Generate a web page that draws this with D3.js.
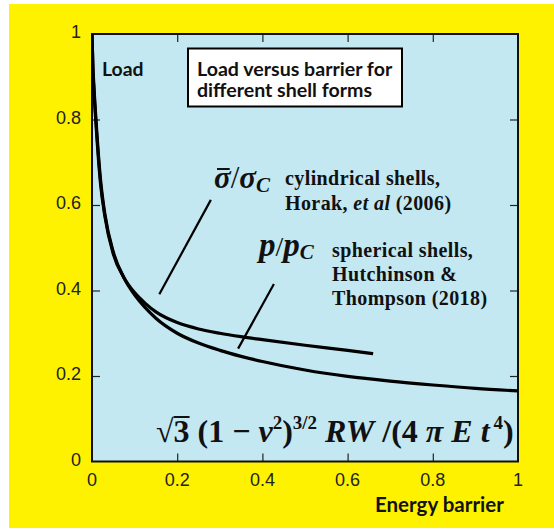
<!DOCTYPE html>
<html><head><meta charset="utf-8">
<script src="https://cdn.jsdelivr.net/npm/d3@7"></script>
<style>body{margin:0;background:#fff}</style>
</head><body><svg id="c" width="554" height="529"></svg>
<script>
const xTicks=[0,0.2,0.4,0.6,0.8,1];
const yTicks=[0,0.2,0.4,0.6,0.8,1];
const xTickLabels=["0","0.2","0.4","0.6","0.8","1"];
const yTickLabels=["0","0.2","0.4","0.6","0.8","1"];
// spherical shells p/pC (Hutchinson & Thompson 2018)
const sphX=[0,0.002,0.005,0.01,0.02,0.03,0.05,0.075,0.1,0.125,0.15,0.2,0.25,0.3,0.35,0.4,0.5,0.6,0.7,0.8,0.9,1.0];
const sphY=[1.0,0.93,0.87,0.79,0.66,0.58,0.49,0.43,0.39,0.36,0.335,0.30,0.277,0.26,0.246,0.234,0.214,0.199,0.188,0.179,0.171,0.165];
// cylindrical shells sigma/sigmaC (Horak et al 2006)
const cylX=[0,0.002,0.005,0.01,0.02,0.03,0.05,0.075,0.1,0.125,0.15,0.2,0.25,0.3,0.35,0.4,0.5,0.6,0.66];
const cylY=[1.0,0.92,0.86,0.78,0.65,0.575,0.485,0.43,0.395,0.37,0.35,0.325,0.31,0.3,0.292,0.285,0.272,0.26,0.252];
const pointerSigma=[[0.279,0.612],[0.158,0.391]];
const pointerP=[[0.427,0.415],[0.343,0.264]];

const svg=d3.select("#c");
const L=92,R=518,T=34,B=461.5;
const x=d3.scaleLinear().domain([0,1]).range([L,R]);
const y=d3.scaleLinear().domain([0,1]).range([B,T]);

svg.append("rect").attr("x",9).attr("y",4).attr("width",545).attr("height",524).attr("fill","#FFF200");
svg.append("rect").attr("x",L).attr("y",T).attr("width",R-L).attr("height",B-T).attr("fill","#C3E8F2");

svg.append("defs").append("clipPath").attr("id","clip").append("rect")
  .attr("x",L).attr("y",T).attr("width",R-L).attr("height",B-T);

const inner=xTicks.slice(1,-1);
const gB=svg.append("g").attr("transform",`translate(0,${B})`).call(d3.axisTop(x).tickValues(inner).tickSize(8).tickFormat(""));
const gT=svg.append("g").attr("transform",`translate(0,${T})`).call(d3.axisBottom(x).tickValues(inner).tickSize(8).tickFormat(""));
const gL=svg.append("g").attr("transform",`translate(${L},0)`).call(d3.axisRight(y).tickValues(yTicks.slice(1,-1)).tickSize(8).tickFormat(""));
const gR=svg.append("g").attr("transform",`translate(${R},0)`).call(d3.axisLeft(y).tickValues(yTicks.slice(1,-1)).tickSize(8).tickFormat(""));
[gB,gT,gL,gR].forEach(g=>{g.select(".domain").remove();g.selectAll("line").attr("stroke","#222").attr("stroke-width",1.2);});

svg.append("g").selectAll("text").data(xTicks).join("text")
  .attr("x",d=>x(d)).attr("y",486).attr("text-anchor","middle")
  .attr("font-family","Liberation Sans, Arial").attr("font-size",18).attr("fill","#222")
  .text((d,i)=>xTickLabels[i]);
svg.append("g").selectAll("text").data(yTicks).join("text")
  .attr("x",81).attr("y",d=>y(d)-2).attr("dy","0.35em").attr("text-anchor","end")
  .attr("font-family","Liberation Sans, Arial").attr("font-size",18).attr("fill","#222")
  .text((d,i)=>yTickLabels[i]);

svg.append("rect").attr("x",L).attr("y",T).attr("width",R-L).attr("height",B-T)
  .attr("fill","none").attr("stroke","#111").attr("stroke-width",2);

const line=d3.line().x(d=>x(d[0])).y(d=>y(d[1])).curve(d3.curveMonotoneX);
const gc=svg.append("g").attr("clip-path","url(#clip)");
gc.append("path").datum(sphX.map((v,i)=>[v,sphY[i]])).attr("d",line)
  .attr("fill","none").attr("stroke","#000").attr("stroke-width",3.2);
gc.append("path").datum(cylX.map((v,i)=>[v,cylY[i]])).attr("d",line)
  .attr("fill","none").attr("stroke","#000").attr("stroke-width",3.2);

const pl=d3.line().x(d=>x(d[0])).y(d=>y(d[1]));
[pointerSigma,pointerP].forEach(p=>svg.append("path").attr("d",pl(p)).attr("stroke","#000").attr("stroke-width",2.2).attr("fill","none"));

const sans="Lato, Open Sans, sans-serif";
svg.append("text").attr("x",102).attr("y",76).attr("font-family",sans).attr("font-weight","bold").attr("font-size",19.4).attr("fill","#111").text("Load");
svg.append("rect").attr("x",188).attr("y",48.5).attr("width",214).attr("height",58).attr("fill","#fff").attr("stroke","#000").attr("stroke-width",2);
svg.append("text").attr("x",197).attr("y",76).attr("font-family",sans).attr("font-weight","bold").attr("font-size",19.6).attr("fill","#111").text("Load versus barrier for");
svg.append("text").attr("x",197).attr("y",97).attr("font-family",sans).attr("font-weight","bold").attr("font-size",19.6).attr("fill","#111").text("different shell forms");
svg.append("text").attr("x",375).attr("y",512).attr("font-family",sans).attr("font-weight","bold").attr("font-size",20.5).attr("fill","#111").text("Energy barrier");

const serif="Liberation Serif, Times New Roman, serif";
const sg=svg.append("text").attr("x",214).attr("y",188).attr("font-family",serif).attr("font-weight","bold").attr("font-size",31).attr("fill","#111");
sg.append("tspan").attr("font-style","italic").text("σ");
sg.append("tspan").attr("font-weight","normal").text("/");
sg.append("tspan").attr("font-style","italic").text("σ");
sg.append("tspan").attr("font-style","italic").attr("font-size",21).attr("dy",4).text("C");
const bb=sg.node().getExtentOfChar(0);
svg.append("line").attr("x1",bb.x+3).attr("x2",bb.x+bb.width-1).attr("y1",169).attr("y2",169).attr("stroke","#111").attr("stroke-width",2);
const t1=svg.append("text").attr("font-family",serif).attr("font-weight","bold").attr("font-size",20).attr("letter-spacing",0.4).attr("fill","#111");
t1.append("tspan").attr("x",285).attr("y",185).text("cylindrical shells,");
const t1b=t1.append("tspan").attr("x",285).attr("y",210);
t1b.append("tspan").text("Horak, ");
t1b.append("tspan").attr("font-style","italic").text("et al");
t1b.append("tspan").text(" (2006)");

const pg=svg.append("text").attr("x",259).attr("y",256).attr("font-family",serif).attr("font-weight","bold").attr("font-size",33).attr("fill","#111");
pg.append("tspan").attr("font-style","italic").text("p");
pg.append("tspan").attr("font-weight","normal").attr("font-size",28).text("/");
pg.append("tspan").attr("font-style","italic").text("p");
pg.append("tspan").attr("font-style","italic").attr("font-size",21).attr("dy",3).text("C");
const t2=svg.append("text").attr("font-family",serif).attr("font-weight","bold").attr("font-size",20).attr("letter-spacing",0.4).attr("fill","#111");
t2.append("tspan").attr("x",332).attr("y",257).text("spherical shells,");
t2.append("tspan").attr("x",332).attr("y",281).text("Hutchinson &");
t2.append("tspan").attr("x",332).attr("y",305).text("Thompson (2018)");

const f=svg.append("text").attr("x",156).attr("y",442).attr("font-family",serif).attr("font-weight","bold").attr("font-size",32).attr("fill","#111");
f.append("tspan").attr("font-weight","normal").text("√");
f.append("tspan").text("3");
f.append("tspan").text(" (1 − ");
f.append("tspan").attr("font-style","italic").text("ν");
f.append("tspan").attr("font-size",19).attr("dy",-13).text("2");
f.append("tspan").attr("dy",13).text(")");
f.append("tspan").attr("font-size",19).attr("dy",-13).text("3/2");
f.append("tspan").attr("dy",13).attr("font-style","italic").text(" RW");
f.append("tspan").text(" /(4 ");
f.append("tspan").attr("font-style","italic").text("π E t");
f.append("tspan").attr("font-size",19).attr("dx",4).attr("dy",-13).text("4");
f.append("tspan").attr("dy",13).text(")");
const e3=f.node().getExtentOfChar(1);
svg.append("line").attr("x1",e3.x).attr("x2",e3.x+e3.width).attr("y1",e3.y+4).attr("y2",e3.y+4).attr("stroke","#111").attr("stroke-width",2);
</script></body></html>
